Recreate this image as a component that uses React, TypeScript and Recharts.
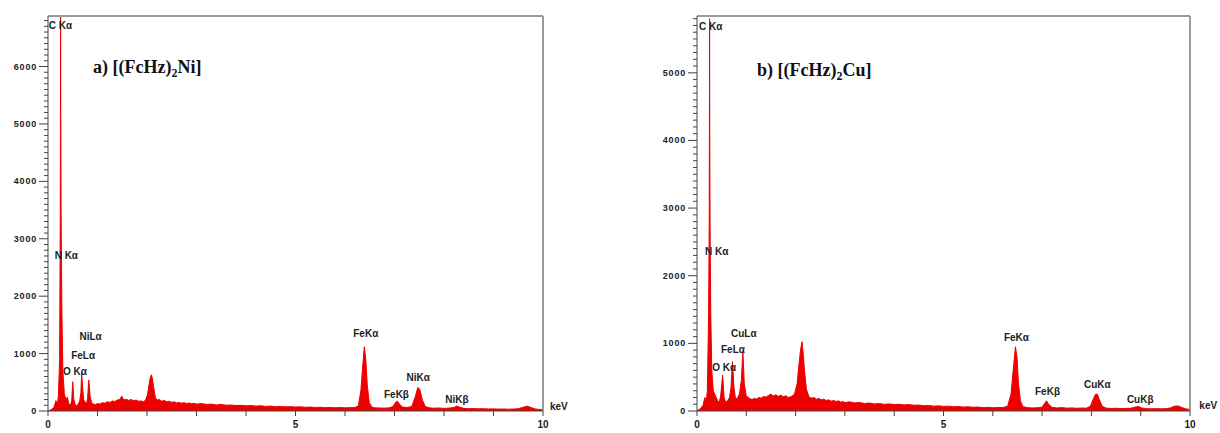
import React from "react";
import {
  AreaChart,
  Area,
  XAxis,
  YAxis,
  ReferenceLine,
  ReferenceDot,
} from "recharts";

// EDX spectra, [keV, counts]
const spectrumNi: [number, number][] = [
  [0.0, 0], [0.06, 20], [0.12, 60], [0.16, 180], [0.19, 120], [0.21, 260], [0.235, 900],
  [0.248, 3400], [0.252, 5200], [0.255, 6880], [0.258, 5200], [0.265, 3400], [0.28, 1800],
  [0.3, 700], [0.33, 300], [0.36, 200], [0.39, 240], [0.42, 130], [0.45, 90], [0.48, 180],
  [0.5, 510], [0.52, 210], [0.55, 110], [0.58, 90], [0.61, 120], [0.64, 170], [0.665, 320],
  [0.68, 670], [0.7, 400], [0.72, 200], [0.75, 150], [0.78, 130], [0.8, 230], [0.825, 540],
  [0.85, 260], [0.88, 150], [0.92, 120], [0.96, 110], [1.0, 130], [1.05, 120], [1.1, 145],
  [1.15, 135], [1.2, 160], [1.25, 150], [1.3, 175], [1.35, 165], [1.4, 190], [1.45, 200],
  [1.49, 260], [1.53, 190], [1.58, 205], [1.63, 185], [1.68, 200], [1.73, 180], [1.78, 190],
  [1.83, 170], [1.88, 175], [1.93, 160], [1.97, 190], [2.01, 280], [2.04, 450], [2.07, 600],
  [2.09, 630], [2.11, 560], [2.14, 380], [2.17, 230], [2.21, 190], [2.25, 200], [2.3, 170],
  [2.35, 185], [2.4, 160], [2.45, 170], [2.5, 150], [2.55, 160], [2.6, 140], [2.65, 150],
  [2.7, 135], [2.75, 145], [2.8, 130], [2.85, 140], [2.9, 125], [2.95, 135], [3.0, 120],
  [3.1, 130], [3.2, 115], [3.3, 120], [3.4, 105], [3.5, 115], [3.6, 100], [3.7, 105],
  [3.8, 95], [3.9, 100], [4.0, 90], [4.1, 95], [4.2, 85], [4.3, 90], [4.4, 80], [4.5, 85],
  [4.6, 75], [4.7, 80], [4.8, 72], [4.9, 76], [5.0, 70], [5.1, 72], [5.2, 65], [5.3, 68],
  [5.4, 62], [5.5, 66], [5.6, 58], [5.7, 62], [5.8, 56], [5.9, 60], [6.0, 55], [6.1, 58],
  [6.2, 60], [6.27, 90], [6.32, 350], [6.36, 800], [6.39, 1120], [6.42, 900], [6.45, 450],
  [6.49, 150], [6.54, 70], [6.6, 55], [6.7, 52], [6.8, 50], [6.9, 55], [6.97, 80],
  [7.02, 150], [7.06, 170], [7.1, 120], [7.16, 70], [7.25, 60], [7.35, 80], [7.42, 250],
  [7.47, 410], [7.51, 380], [7.56, 200], [7.62, 80], [7.7, 55], [7.8, 48], [7.9, 52],
  [8.0, 45], [8.1, 50], [8.2, 60], [8.26, 85], [8.32, 65], [8.4, 45], [8.5, 40], [8.6, 42],
  [8.7, 38], [8.8, 40], [8.9, 35], [9.0, 37], [9.1, 33], [9.2, 35], [9.3, 32], [9.4, 34],
  [9.5, 40], [9.6, 65], [9.68, 85], [9.76, 60], [9.84, 35], [9.92, 28], [10.0, 25],
];

const spectrumCu: [number, number][] = [
  [0.0, 0], [0.06, 30], [0.12, 80], [0.16, 200], [0.19, 150], [0.21, 300], [0.235, 1400],
  [0.248, 2780], [0.252, 4280], [0.255, 5800], [0.258, 4280], [0.265, 2780], [0.28, 1400],
  [0.3, 600], [0.33, 300], [0.36, 250], [0.39, 200], [0.42, 150], [0.45, 130], [0.48, 220],
  [0.52, 530], [0.55, 200], [0.58, 130], [0.62, 150], [0.66, 200], [0.69, 350], [0.72, 730],
  [0.75, 350], [0.78, 180], [0.82, 190], [0.86, 250], [0.9, 450], [0.93, 880], [0.96, 400],
  [1.0, 220], [1.04, 200], [1.08, 180], [1.12, 170], [1.16, 190], [1.2, 175], [1.25, 200],
  [1.3, 190], [1.35, 215], [1.4, 205], [1.45, 230], [1.5, 250], [1.55, 220], [1.6, 240],
  [1.65, 215], [1.7, 235], [1.75, 210], [1.8, 225], [1.85, 200], [1.9, 210], [1.95, 230],
  [1.98, 260], [2.03, 400], [2.07, 700], [2.1, 900], [2.13, 1025], [2.15, 880], [2.18, 600],
  [2.22, 320], [2.27, 210], [2.32, 190], [2.37, 200], [2.42, 175], [2.47, 185], [2.52, 165],
  [2.57, 175], [2.62, 155], [2.67, 165], [2.72, 145], [2.77, 155], [2.82, 140], [2.87, 150],
  [2.92, 130], [2.97, 140], [3.0, 125], [3.1, 135], [3.2, 120], [3.3, 125], [3.4, 110],
  [3.5, 118], [3.6, 104], [3.7, 110], [3.8, 98], [3.9, 105], [4.0, 95], [4.1, 100],
  [4.2, 90], [4.3, 95], [4.4, 85], [4.5, 88], [4.6, 78], [4.7, 82], [4.8, 72], [4.9, 76],
  [5.0, 68], [5.1, 72], [5.2, 62], [5.3, 66], [5.4, 58], [5.5, 62], [5.6, 55], [5.7, 58],
  [5.8, 50], [5.9, 54], [6.0, 48], [6.1, 52], [6.2, 50], [6.3, 70], [6.37, 250], [6.42, 650],
  [6.46, 950], [6.49, 800], [6.52, 420], [6.56, 150], [6.61, 65], [6.7, 50], [6.8, 45],
  [6.9, 48], [7.0, 55], [7.05, 110], [7.09, 150], [7.13, 100], [7.2, 55], [7.3, 45],
  [7.4, 50], [7.5, 42], [7.6, 46], [7.7, 40], [7.8, 44], [7.9, 42], [7.98, 70], [8.04, 180],
  [8.08, 245], [8.12, 250], [8.16, 170], [8.22, 70], [8.3, 42], [8.4, 38], [8.5, 40],
  [8.6, 36], [8.7, 38], [8.8, 40], [8.9, 60], [8.96, 65], [9.02, 45], [9.1, 35], [9.2, 33],
  [9.3, 35], [9.4, 32], [9.5, 34], [9.6, 45], [9.68, 70], [9.76, 75], [9.84, 50],
  [9.92, 30], [10.0, 25],
];

const labelsNi: [string, number, number][] = [
  ["C Kα", 0.25, 6720],
  ["N Kα", 0.37, 2705],
  ["NiLα", 0.86, 1294],
  ["FeLα", 0.71, 975],
  ["O Kα", 0.545, 685],
  ["FeKα", 6.42, 1353],
  ["FeKβ", 7.04, 279],
  ["NiKα", 7.48, 587],
  ["NiKβ", 8.26, 204],
];

const labelsCu: [string, number, number][] = [
  ["C Kα", 0.28, 5685],
  ["N Kα", 0.4, 2357],
  ["CuLα", 0.95, 1149],
  ["FeLα", 0.73, 902],
  ["O Kα", 0.55, 641],
  ["FeKα", 6.48, 1090],
  ["FeKβ", 7.11, 286],
  ["CuKα", 8.12, 395],
  ["CuKβ", 8.99, 163],
];

const xTicks = [0, 1, 2, 3, 4, 5, 6, 7, 8, 9, 10];
const xLabels = [0, 5, 10];

const RED = "#ee0000";
const FONT = "'Liberation Sans', Arial, sans-serif";

function YTick(props: any) {
  const { x, y, payload } = props;
  const v = payload.value;
  const major = v % 1000 === 0;
  return (
    <g>
      <line x1={x - (major ? 9 : 4)} x2={x} y1={y} y2={y} stroke="#444" strokeWidth={1} />
      {major && (
        <text
          x={x - 11}
          y={y}
          textAnchor="end"
          dominantBaseline="central"
          fontFamily={FONT}
          fontSize={9}
          fontWeight="bold"
          letterSpacing={0.8}
          fill="#222"
        >
          {v}
        </text>
      )}
    </g>
  );
}

function XTick(props: any) {
  const { x, y, payload } = props;
  const v = payload.value;
  return (
    <g>
      <line x1={x} x2={x} y1={y} y2={y + 5} stroke="#444" strokeWidth={1} />
      {xLabels.includes(v) && (
        <text
          x={x}
          y={y + 17}
          textAnchor="middle"
          fontFamily={FONT}
          fontSize={10}
          fontWeight="bold"
          fill="#222"
        >
          {v}
        </text>
      )}
    </g>
  );
}

function PeakText(text: string) {
  return (p: any) => (
    <text
      x={p.cx}
      y={p.cy}
      textAnchor="middle"
      dominantBaseline="central"
      fontFamily={FONT}
      fontSize={10}
      fontWeight="bold"
      fill="#222"
    >
      {text}
    </text>
  );
}

interface SpectrumProps {
  spectrum: [number, number][];
  labels: [string, number, number][];
  yMax: number;
  keVAt: [number, number];
  width: number;
  axisWidth: number;
  marginRight: number;
}

function Spectrum({ spectrum, labels, yMax, keVAt, width, axisWidth, marginRight }: SpectrumProps) {
  const data = spectrum.map(([e, c]) => ({ e, c }));
  const yTicks: number[] = [];
  for (let v = 0; v <= yMax; v += 100) yTicks.push(v);

  return (
    <AreaChart
      width={width}
      height={433}
      data={data}
      margin={{ top: 16, right: marginRight, bottom: 0, left: 0 }}
    >
      <XAxis
        dataKey="e"
        type="number"
        domain={[0, 10]}
        ticks={xTicks}
        tick={<XTick />}
        tickSize={0}
        tickMargin={0}
        interval={0}
        height={22}
        axisLine={{ stroke: "#444" }}
      />
      <YAxis
        type="number"
        domain={[0, yMax]}
        ticks={yTicks}
        tick={<YTick />}
        tickSize={0}
        tickMargin={0}
        interval={0}
        width={axisWidth}
        axisLine={{ stroke: "#444" }}
        allowDataOverflow
      />
      <ReferenceLine y={yMax} stroke="#9a9a9a" strokeWidth={2} />
      <ReferenceLine x={10} stroke="#9a9a9a" strokeWidth={2} />
      <Area
        type="linear"
        dataKey="c"
        stroke={RED}
        strokeWidth={1}
        fill={RED}
        fillOpacity={1}
        dot={false}
        activeDot={false}
        isAnimationActive={false}
      />
      {labels.map(([t, e, c]) => (
        <ReferenceDot key={t} x={e} y={c} r={0} ifOverflow="visible" shape={PeakText(t)} />
      ))}
      <ReferenceDot x={keVAt[0]} y={keVAt[1]} r={0} ifOverflow="visible" shape={PeakText("keV")} />
    </AreaChart>
  );
}

const titleStyle: React.CSSProperties = {
  position: "absolute",
  fontFamily: "'Liberation Serif', 'Times New Roman', serif",
  fontWeight: "bold",
  fontSize: 18,
  lineHeight: "18px",
  color: "#111",
  whiteSpace: "nowrap",
};

export default function App() {
  return (
    <div
      style={{
        position: "absolute",
        left: 0,
        top: 0,
        width: 1220,
        height: 433,
        background: "#fff",
        overflow: "hidden",
      }}
    >
      <div style={{ position: "absolute", left: 0, top: 0 }}>
        <Spectrum
          spectrum={spectrumNi}
          labels={labelsNi}
          yMax={6880}
          keVAt={[10.32, 87]}
          width={580}
          axisWidth={48}
          marginRight={37}
        />
      </div>
      <div style={{ position: "absolute", left: 640, top: 0 }}>
        <Spectrum
          spectrum={spectrumCu}
          labels={labelsCu}
          yMax={5840}
          keVAt={[10.37, 74]}
          width={580}
          axisWidth={57}
          marginRight={30}
        />
      </div>
      <div style={{ ...titleStyle, left: 93, top: 58 }}>
        a) [(FcHz)<sub style={{ fontSize: 12, verticalAlign: "-4px" }}>2</sub>Ni]
      </div>
      <div style={{ ...titleStyle, left: 757, top: 61 }}>
        b) [(FcHz)<sub style={{ fontSize: 12, verticalAlign: "-4px" }}>2</sub>Cu]
      </div>
    </div>
  );
}
